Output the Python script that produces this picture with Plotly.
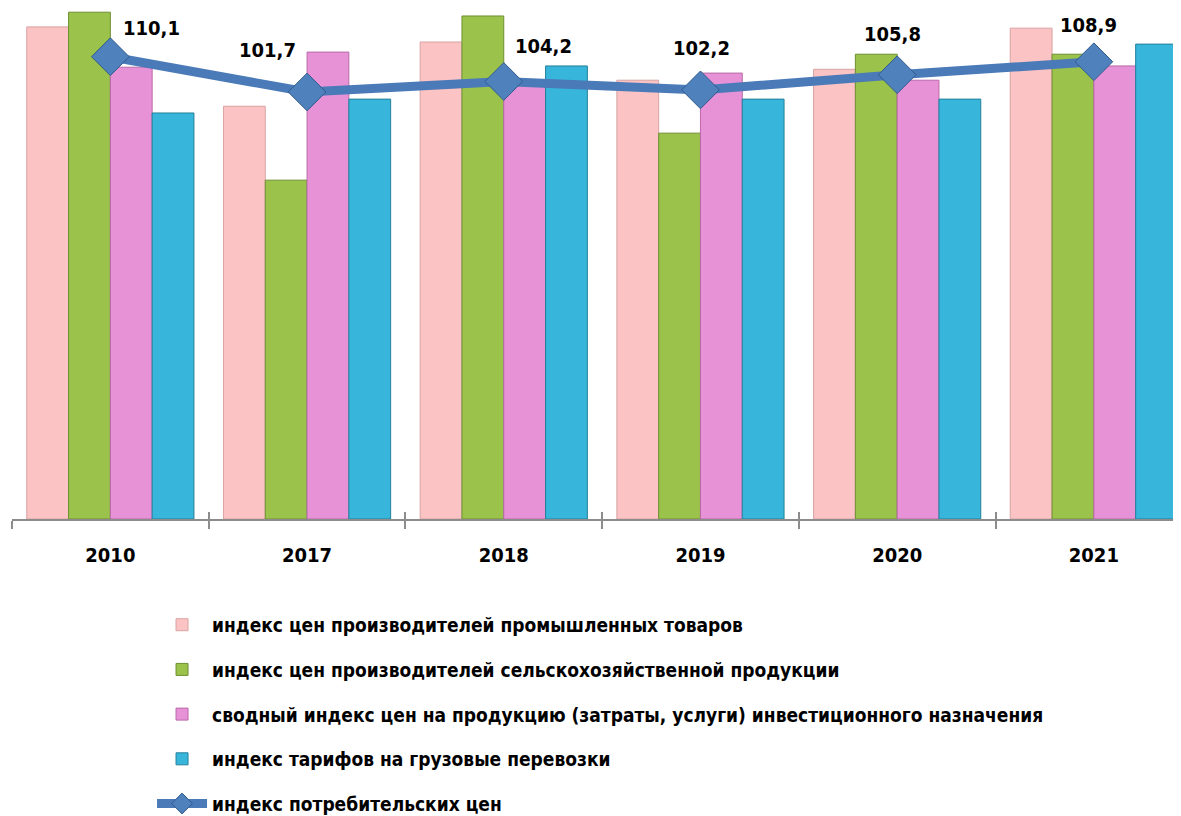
import plotly.graph_objects as go

years = ["2010", "2017", "2018", "2019", "2020", "2021"]
industrial = [117.2, 98.3, 113.6, 104.5, 107.1, 116.9]
agricultural = [120.7, 80.7, 119.8, 91.9, 110.7, 110.7]
investment = [107.6, 111.2, 104.5, 106.2, 104.5, 107.9]
freight = [96.7, 100.0, 107.9, 100.0, 100.0, 113.1]
consumer = [110.1, 101.7, 104.2, 102.2, 105.8, 108.9]
consumer_labels = ["110,1", "101,7", "104,2", "102,2", "105,8", "108,9"]

names = [
    "индекс цен производителей промышленных товаров",
    "индекс цен производителей сельскохозяйственной продукции",
    "сводный индекс цен на продукцию (затраты, услуги) инвестиционного назначения",
    "индекс тарифов на грузовые перевозки",
    "индекс потребительских цен",
]

FONT = "Liberation Sans Narrow, Arial Narrow, DejaVu Sans Condensed, sans-serif"

bar_series = [industrial, agricultural, investment, freight]
fills = ["#fbc3c3", "#9bc24b", "#e792d7", "#37b5da"]
edges = ["#d8a3a3", "#6f8f32", "#b86aa8", "#23809c"]

fig = go.Figure()
for i, (vals, fc, ec) in enumerate(zip(bar_series, fills, edges)):
    fig.add_trace(go.Bar(
        x=years, y=vals, name=names[i],
        marker=dict(color=fc, line=dict(color=ec, width=1)),
        legendgroup=f"g{i}",
    ))

fig.add_trace(go.Scatter(
    x=years, y=consumer, name=names[4], mode="lines+markers",
    line=dict(color="#4a7ab8", width=9),
    marker=dict(symbol="diamond", size=29, color="#4f81bd",
                line=dict(color="#2f5a8e", width=1)),
    legendgroup="g4",
))

# helper (empty) trace on an overlaid axis so the category ticks also point upward
fig.add_trace(go.Scatter(
    x=years, y=[None] * len(years), xaxis="x2", mode="lines",
    showlegend=False, hoverinfo="skip",
))

label_shift = [(41, 29), (-40, 42), (40, 35), (1, 42), (-5, 41), (-5, 37)]
for idx, (v, lab, (dx, dy)) in enumerate(zip(consumer, consumer_labels, label_shift)):
    fig.add_annotation(x=idx, y=v, xref="x", yref="y", text=lab, showarrow=False,
                       xshift=dx, yshift=dy,
                       font=dict(family=FONT, size=20, color="black", weight="bold"))

fig.update_layout(
    width=1173, height=808,
    margin=dict(l=4, r=0, t=0, b=297, autoexpand=False),
    paper_bgcolor="white", plot_bgcolor="white",
    barmode="group", bargap=0.15, bargroupgap=0,
    font=dict(family=FONT, color="black"),
    showlegend=True,
    legend=dict(
        orientation="v", x=0.1198, xanchor="left", y=-0.170, yanchor="top",
        font=dict(family=FONT, size=19, color="black", weight="bold"),
        tracegroupgap=17, itemwidth=50, traceorder="grouped",
        bgcolor="rgba(0,0,0,0)",
    ),
    xaxis=dict(
        type="category", range=[-0.5, 5.443],
        showline=True, linecolor="#8c8c8c", linewidth=2,
        ticks="outside", tickson="boundaries", ticklen=8, tickcolor="#8c8c8c", tickwidth=2,
        tickfont=dict(family=FONT, size=20, color="black", weight="bold"),
        ticklabelstandoff=17,
        showgrid=False, zeroline=False,
    ),
    xaxis2=dict(
        type="category", overlaying="x", anchor="y", side="bottom",
        range=[-0.5, 5.443], categoryorder="array", categoryarray=years,
        ticks="inside", tickson="boundaries", ticklen=7, tickcolor="#8c8c8c", tickwidth=2,
        showticklabels=False, showline=False, showgrid=False, zeroline=False,
    ),
    yaxis=dict(range=[0, 121.7], visible=False, showgrid=False, zeroline=False),
)

fig.write_html("out.html")
